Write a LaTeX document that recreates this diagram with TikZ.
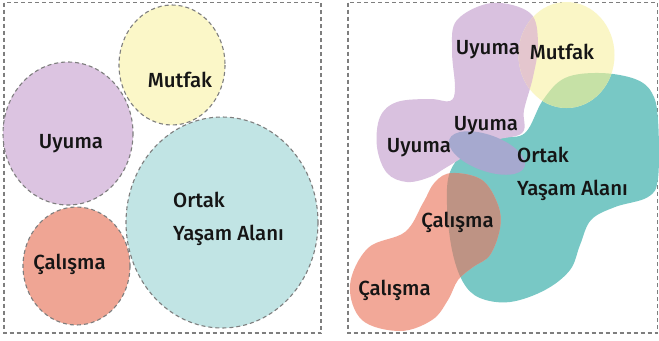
\documentclass[tikz,border=0pt]{standalone}
\usepackage{fontspec}
\setmainfont{Fira Sans}[UprightFont=* Medium]
\usetikzlibrary{shapes.geometric}
\definecolor{frameg}{HTML}{7E7E7E}
\definecolor{lmut}{HTML}{FBF7C8}
\definecolor{luy}{HTML}{DCC4E1}
\definecolor{lcal}{HTML}{EFA594}
\definecolor{lort}{HTML}{C1E4E4}
\definecolor{rteal}{HTML}{78C8C5}
\definecolor{rpur}{HTML}{D9C1DF}
\definecolor{rsal}{HTML}{F2A898}
\definecolor{ryel}{HTML}{FAF6C6}
\definecolor{rbrown}{HTML}{BE9384}
\definecolor{rperi}{HTML}{A6A9CF}
\definecolor{rgreen}{HTML}{C6E1A6}
\definecolor{rpink}{HTML}{E4C6CE}
\definecolor{txt}{HTML}{151515}
\newcommand\TealP{plot[smooth cycle, tension=0.6] coordinates {(543,100) (565,78) (600,73) (635,79) (652,93) (658,120) (658,178) (648,197) (615,207) (591,220) (580,245) (570,270) (545,290) (510,302) (480,298) (463,282) (452,250) (447,205) (450,172) (468,150) (500,138) (525,133)}}
\newcommand\PurP{plot[smooth cycle, tension=0.6] coordinates {(492,3) (530,13) (538,43) (533,77) (524,110) (522,133) (490,142) (447,167) (430,177) (407,182) (387,173) (377,147) (380,117) (397,102) (430,99) (450,101) (455,88) (452,50) (457,20)}}
\newcommand\SalP{plot[smooth cycle, tension=0.6] coordinates {(452,173) (482,180) (498,205) (500,228) (490,255) (473,267) (458,280) (448,300) (432,320) (400,331) (362,320) (350,285) (368,248) (405,232) (423,203) (435,182)}}
\newcommand\YelP{(566.5,55) ellipse[x radius=48, y radius=53]}
\tikzset{
  frame/.style={draw=frameg, line width=1.1bp, dash pattern=on 4bp off 3bp},
  lbl/.style={text=txt, font=\fontsize{20.5}{23}\selectfont, inner sep=0pt},
}
\begin{document}
\begin{tikzpicture}[x=1bp,y=-1bp]
\useasboundingbox (0,0) rectangle (659,340);
\fill[white] (0,0) rectangle (659,340);
% left panel
\draw[frame] (4,2.5) rectangle (321,333);
\filldraw[frame, fill=lmut] (172,65) ellipse[x radius=53, y radius=60];
\filldraw[frame, fill=luy] (68,133.5) ellipse[x radius=65, y radius=71.5];
\filldraw[frame, fill=lcal] (76.5,266) ellipse[x radius=53.5, y radius=59];
\filldraw[frame, fill=lort] (222,222.5) ellipse[x radius=96, y radius=105.5];
\node[lbl] (lmutt) at (180,80) {Mutfak};
\node[lbl] (luyt) at (71,144) {Uyuma};
\node[lbl] (lcalt) at (69.5,264) {Çalışma};
\node[lbl, anchor=west] (lortt) at (173,200) {Ortak};
\node[lbl, anchor=west] (lyast) at (173,235) {Yaşam Alanı};
% right panel
\draw[frame] (348,2.5) rectangle (657.5,333);
\fill[rteal] \TealP;
\fill[rpur] \PurP;
\fill[rsal] \SalP;
\fill[ryel] \YelP;
\begin{scope}\clip \TealP; \fill[rgreen] \YelP; \end{scope}
\begin{scope}\clip \PurP; \fill[rpink] \YelP; \end{scope}
\begin{scope}\clip \TealP; \fill[rbrown] \SalP; \end{scope}
\fill[rperi, rotate around={-20:(487,153)}] (487,153) ellipse[x radius=40, y radius=18];
\node[lbl] (ruy1) at (488,50) {Uyuma};
\node[lbl] (rmut) at (562,52) {Mutfak};
\node[lbl] (ruy2) at (486,126) {Uyuma};
\node[lbl] (ruy3) at (419,148) {Uyuma};
\node[lbl, anchor=west] (rort) at (517,155) {Ortak};
\node[lbl, anchor=west] (ryas) at (517,190) {Yaşam Alanı};
\node[lbl] (rcal1) at (457.5,222) {Çalışma};
\node[lbl] (rcal2) at (394.5,290) {Çalışma};
\end{tikzpicture}
\end{document}
